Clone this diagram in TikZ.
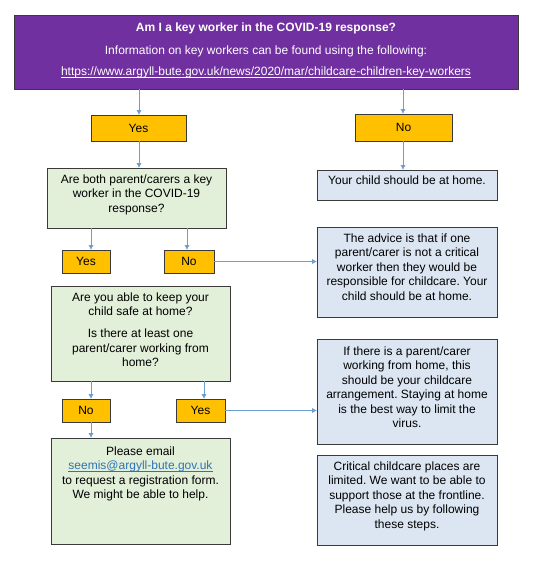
\documentclass[tikz,border=0pt]{standalone}
\usepackage{fontspec}
\setmainfont{Liberation Sans}
\usetikzlibrary{arrows.meta}
\frenchspacing
\definecolor{kpurple}{HTML}{7030A0}
\definecolor{korange}{HTML}{FFC000}
\definecolor{kgreen}{HTML}{E2EFD9}
\definecolor{kblue}{HTML}{DCE6F2}
\definecolor{kborder}{HTML}{3A3A3A}
\definecolor{karrow}{HTML}{6A9FD4}
\definecolor{klink}{HTML}{2E74B5}
\newcommand{\cbx}[4]{\begin{minipage}[c][#1pt][t]{#2pt}\centering\frenchspacing\vspace*{#3pt}\strut #4\end{minipage}}
\newcommand{\myul}[1]{\leavevmode\setbox0\hbox{#1}\rlap{\rule[-2pt]{\wd0}{0.7pt}}\box0}
\tikzset{
  bx/.style={draw=kborder, line width=0.8pt, inner sep=0pt, font=\fontsize{12}{14.5}\selectfont},
  gbox/.style={bx, fill=kgreen},
  bbox/.style={bx, fill=kblue},
  obox/.style={bx, fill=korange, text=black},
  arr/.style={draw=karrow, line width=0.8pt, -{Triangle[length=4.5pt,width=4.5pt]}}
}
\begin{document}
\begin{tikzpicture}[x=1pt,y=-1pt]
\useasboundingbox (0,0) rectangle (539,561);
\node[bx, fill=kpurple, text=white] (top) at (266,52)
  {\cbx{74}{504}{5.9}{\textbf{Am I a key worker in the COVID-19 response?}\\[9pt]Information on key workers can be found using the following:\\[6.5pt]\myul{https://www.argyll-bute.gov.uk/news/2020/mar/childcare-children-key-workers}}};
\node[obox, minimum width=95pt, minimum height=26pt] (yes1) at (138.5,128) {Yes};
\node[obox, minimum width=97pt, minimum height=27pt] (no1) at (403.5,127.5) {No};
\node[gbox] (g1) at (136.5,198) {\cbx{60}{179}{5}{Are both parent/carers a key\\worker in the COVID-19\\response?}};
\node[bbox] (b1) at (407,185) {\cbx{30}{180}{4}{Your child should be at home.}};
\node[bbox] (b2) at (407,272) {\cbx{90}{180}{5}{The advice is that if one\\parent/carer is not a critical\\worker then they would be\\responsible for childcare. Your\\child should be at home.}};
\node[obox, minimum width=48pt, minimum height=23pt] (yes2) at (86,261.5) {Yes};
\node[obox, minimum width=50pt, minimum height=23pt] (no2) at (189,261.5) {No};
\node[gbox] (g2) at (140.5,333.5) {\cbx{95}{179}{5}{Are you able to keep your\\child safe at home?\\[7.5pt]Is there at least one\\parent/carer working from\\home?}};
\node[obox, minimum width=48pt, minimum height=23pt] (no3) at (86,410.5) {No};
\node[obox, minimum width=49pt, minimum height=23pt] (yes3) at (200.5,410.5) {Yes};
\node[gbox] (g3) at (140.5,491) {\cbx{106}{179}{7}{Please email\\\leavevmode{\color{klink}\myul{seemis@argyll-bute.gov.uk}}\\to request a registration form.\\We might be able to help.}};
\node[bbox] (b3) at (407,391.5) {\cbx{105}{180}{6}{If there is a parent/carer\\working from home, this\\should be your childcare\\arrangement. Staying at home\\is the best way to limit the\\virus.}};
\node[bbox] (b4) at (407,500) {\cbx{90}{180}{5}{Critical childcare places are\\limited. We want to be able to\\support those at the frontline.\\Please help us by following\\these steps.}};
\draw[arr] (top.south -| 139,0) -- (yes1.north -| 139,0);
\draw[arr] (top.south -| 403,0) -- (no1.north -| 403,0);
\draw[arr] (yes1.south -| 139,0) -- (g1.north -| 139,0);
\draw[arr] (no1.south -| 403,0) -- (b1.north -| 403,0);
\draw[arr] (g1.south -| 91,0) -- (yes2.north -| 91,0);
\draw[arr] (g1.south -| 187,0) -- (no2.north -| 187,0);
\draw[arr] (no2.east) -- (b2.west |- no2.east);
\draw[arr] (g2.south -| 91,0) -- (no3.north -| 91,0);
\draw[arr] (g2.south -| 204,0) -- (yes3.north -| 204,0);
\draw[arr] (yes3.east) -- (b3.west |- yes3.east);
\draw[arr] (no3.south -| 91,0) -- (g3.north -| 91,0);
\end{tikzpicture}
\end{document}
